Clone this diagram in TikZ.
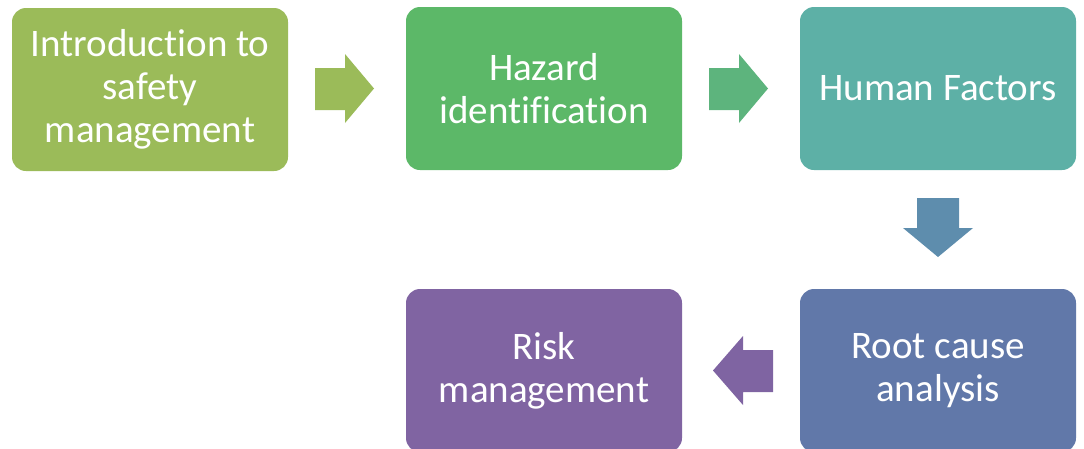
\documentclass[tikz,border=0pt]{standalone}
\usepackage{fontspec}
\setmainfont[Ligatures={NoCommon}]{Carlito}
\definecolor{cA}{HTML}{9BBB59}
\definecolor{cB}{HTML}{5CB868}
\definecolor{cC}{HTML}{5DB0A6}
\definecolor{cD}{HTML}{6178A9}
\definecolor{cE}{HTML}{8064A2}
\definecolor{aB}{HTML}{5DB47D}
\definecolor{aC}{HTML}{5E8DAD}
\definecolor{aD}{HTML}{7F64A2}
\newcommand\mysetsp{\spaceskip=8.5pt plus 1pt minus 1pt\relax}
\tikzset{
  stepbox/.style={rectangle, rounded corners=14pt, minimum width=276pt, minimum height=163pt,
    inner sep=0pt, text width=272pt, align=center, text=white,
    font=\fontsize{39pt}{43pt}\selectfont, execute at begin node={\mysetsp}},
}
\begin{document}
\begin{tikzpicture}[x=1pt,y=-1pt]
\useasboundingbox (0,0) rectangle (1084,448);
\begin{scope}
\clip (0,0) rectangle (1084,448);
\node[stepbox, fill=cA] (intro) at (150,89.5) {Introduction to\\safety\\management};
\node[stepbox, fill=cB] (haz) at (544,88.5) {Hazard\\identification};
\node[stepbox, fill=cC] (hum) at (938,88.5) {Human Factors};
\node[stepbox, fill=cD] (root) at (938,370.5) {Root cause\\analysis};
\node[stepbox, fill=cE] (risk) at (544,370.5) {Risk\\management};
\end{scope}
% arrows
\fill[cA] (315,68) -- (345,68) -- (345,54) -- (374,88.5) -- (345,123) -- (345,110) -- (315,110) -- cycle;
\fill[aB] (709,68) -- (739,68) -- (739,54) -- (768,88.5) -- (739,123) -- (739,110) -- (709,110) -- cycle;
\fill[aC] (917,198) -- (959,198) -- (959,228) -- (973,228) -- (938,257) -- (903,228) -- (917,228) -- cycle;
\fill[aD] (773,350) -- (743,350) -- (743,336) -- (713,370.5) -- (743,405) -- (743,392) -- (773,392) -- cycle;
\end{tikzpicture}
\end{document}
